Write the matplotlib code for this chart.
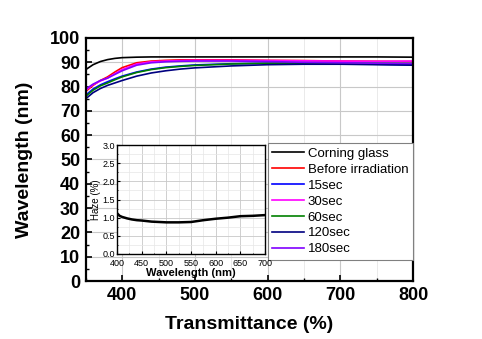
import matplotlib
matplotlib.use("Agg")
import matplotlib.pyplot as plt
from matplotlib.ticker import MultipleLocator

plt.rcParams['font.family'] = ['Liberation Sans', 'DejaVu Sans']

wl = [350, 360, 370, 380, 390, 400, 420, 440, 460, 480, 500, 550, 600, 650, 700, 750, 800]
corning = [87.0, 89.0, 90.3, 91.1, 91.6, 91.9, 92.1, 92.2, 92.2, 92.2, 92.2, 92.2, 92.2, 92.2, 92.2, 92.2, 92.1]
before = [78.0, 80.5, 82.5, 84.0, 86.0, 87.8, 89.8, 90.5, 90.8, 91.0, 91.0, 91.0, 90.8, 90.7, 90.5, 90.4, 90.3]
s15 = [76.5, 79.0, 80.7, 82.0, 83.2, 84.3, 86.0, 87.2, 88.0, 88.5, 88.9, 89.4, 89.6, 89.6, 89.4, 89.2, 89.0]
s30 = [78.5, 80.8, 82.3, 83.5, 85.3, 87.0, 89.3, 90.2, 90.5, 90.7, 90.8, 90.8, 90.7, 90.6, 90.5, 90.4, 90.5]
s60 = [76.0, 78.5, 80.3, 81.5, 82.8, 84.0, 85.8, 87.0, 87.8, 88.3, 88.7, 89.3, 89.6, 89.7, 89.7, 89.6, 89.5]
s120 = [75.0, 77.5, 79.2, 80.5, 81.5, 82.5, 84.3, 85.6, 86.5, 87.2, 87.7, 88.5, 89.0, 89.2, 89.2, 89.0, 88.8]
s180 = [79.0, 81.0, 82.5, 83.5, 85.0, 86.5, 88.8, 89.8, 90.2, 90.4, 90.5, 90.5, 90.3, 90.0, 89.8, 89.6, 89.5]

labels = ["Corning glass", "Before irradiation", "15sec", "30sec", "60sec", "120sec", "180sec"]
series = [corning, before, s15, s30, s60, s120, s180]
colors = ["#000000", "#FF0000", "#0000FF", "#FF00FF", "#008000", "#000080", "#8000FF"]

haze_wl = [400, 405, 410, 420, 430, 440, 450, 470, 500, 525, 550, 575, 600, 625, 650, 675, 700]
haze = [1.12, 1.05, 1.02, 0.98, 0.95, 0.93, 0.92, 0.89, 0.87, 0.87, 0.88, 0.93, 0.97, 1.0, 1.04, 1.05, 1.07]

fig = plt.figure(figsize=(4.82, 3.39), dpi=100)
ax = fig.add_axes([0.178, 0.171, 0.679, 0.717])

for y, c, lab in zip(series, colors, labels):
    ax.plot(wl, y, color=c, lw=1.2, label=lab)

ax.set_xlim(350, 800)
ax.set_ylim(0, 100)
ax.xaxis.set_major_locator(MultipleLocator(100))
ax.xaxis.set_minor_locator(MultipleLocator(50))
ax.yaxis.set_major_locator(MultipleLocator(10))
ax.yaxis.set_minor_locator(MultipleLocator(5))
ax.grid(True, which='major', color='#c8c8c8', lw=0.8)
ax.grid(True, which='minor', axis='x', color='#e6e6e6', lw=0.6)
ax.set_axisbelow(True)
ax.tick_params(which='both', direction='in', top=False, right=False)
ax.tick_params(which='major', length=4, width=1.2, labelsize=13, pad=4)
ax.tick_params(which='minor', length=2.5, width=1.0)
for lbl in ax.get_xticklabels() + ax.get_yticklabels():
    lbl.set_fontweight('bold')
for s in ax.spines.values():
    s.set_linewidth(1.6)
ax.set_xlabel("Transmittance (%)", fontsize=14, fontweight='bold', labelpad=9)
ax.set_ylabel("Wavelength (nm)", fontsize=14, fontweight='bold', labelpad=12)

leg = ax.legend(loc='upper right', bbox_to_anchor=(1.0, 0.568), fontsize=9.5,
                frameon=True, fancybox=False, edgecolor='#808080', framealpha=1,
                handlelength=2.4, handletextpad=0.3, labelspacing=0.28,
                borderpad=0.35, borderaxespad=0.0)
leg.get_frame().set_linewidth(0.8)

ins = fig.add_axes([0.243, 0.251, 0.307, 0.321])
ins.plot(haze_wl, haze, color='black', lw=1.8)
ins.set_xlim(400, 700)
ins.set_ylim(0, 3.0)
ins.xaxis.set_major_locator(MultipleLocator(50))
ins.xaxis.set_minor_locator(MultipleLocator(25))
ins.yaxis.set_major_locator(MultipleLocator(0.5))
ins.yaxis.set_minor_locator(MultipleLocator(0.25))
ins.set_yticks([0, 0.5, 1.0, 1.5, 2.0, 2.5, 3.0])
ins.set_yticklabels(["0.0", "0.5", "1.0", "1.5", "2.0", "2.5", "3.0"])
ins.grid(True, which='major', color='#c8c8c8', lw=0.6)
ins.grid(True, which='minor', color='#e6e6e6', lw=0.5)
ins.set_axisbelow(True)
ins.tick_params(which='both', direction='in', labelsize=6.5)
ins.tick_params(axis='x', pad=3.5)
ins.tick_params(axis='y', pad=1.5)
ins.tick_params(which='major', length=2)
ins.tick_params(which='minor', length=1)
for s in ins.spines.values():
    s.set_linewidth(1.0)
ins.set_xlabel("Wavelength (nm)", fontsize=8, fontweight='bold', labelpad=0)
ins.set_ylabel("Haze (%)", fontsize=7, labelpad=1)

fig.savefig("out.png", dpi=100)
